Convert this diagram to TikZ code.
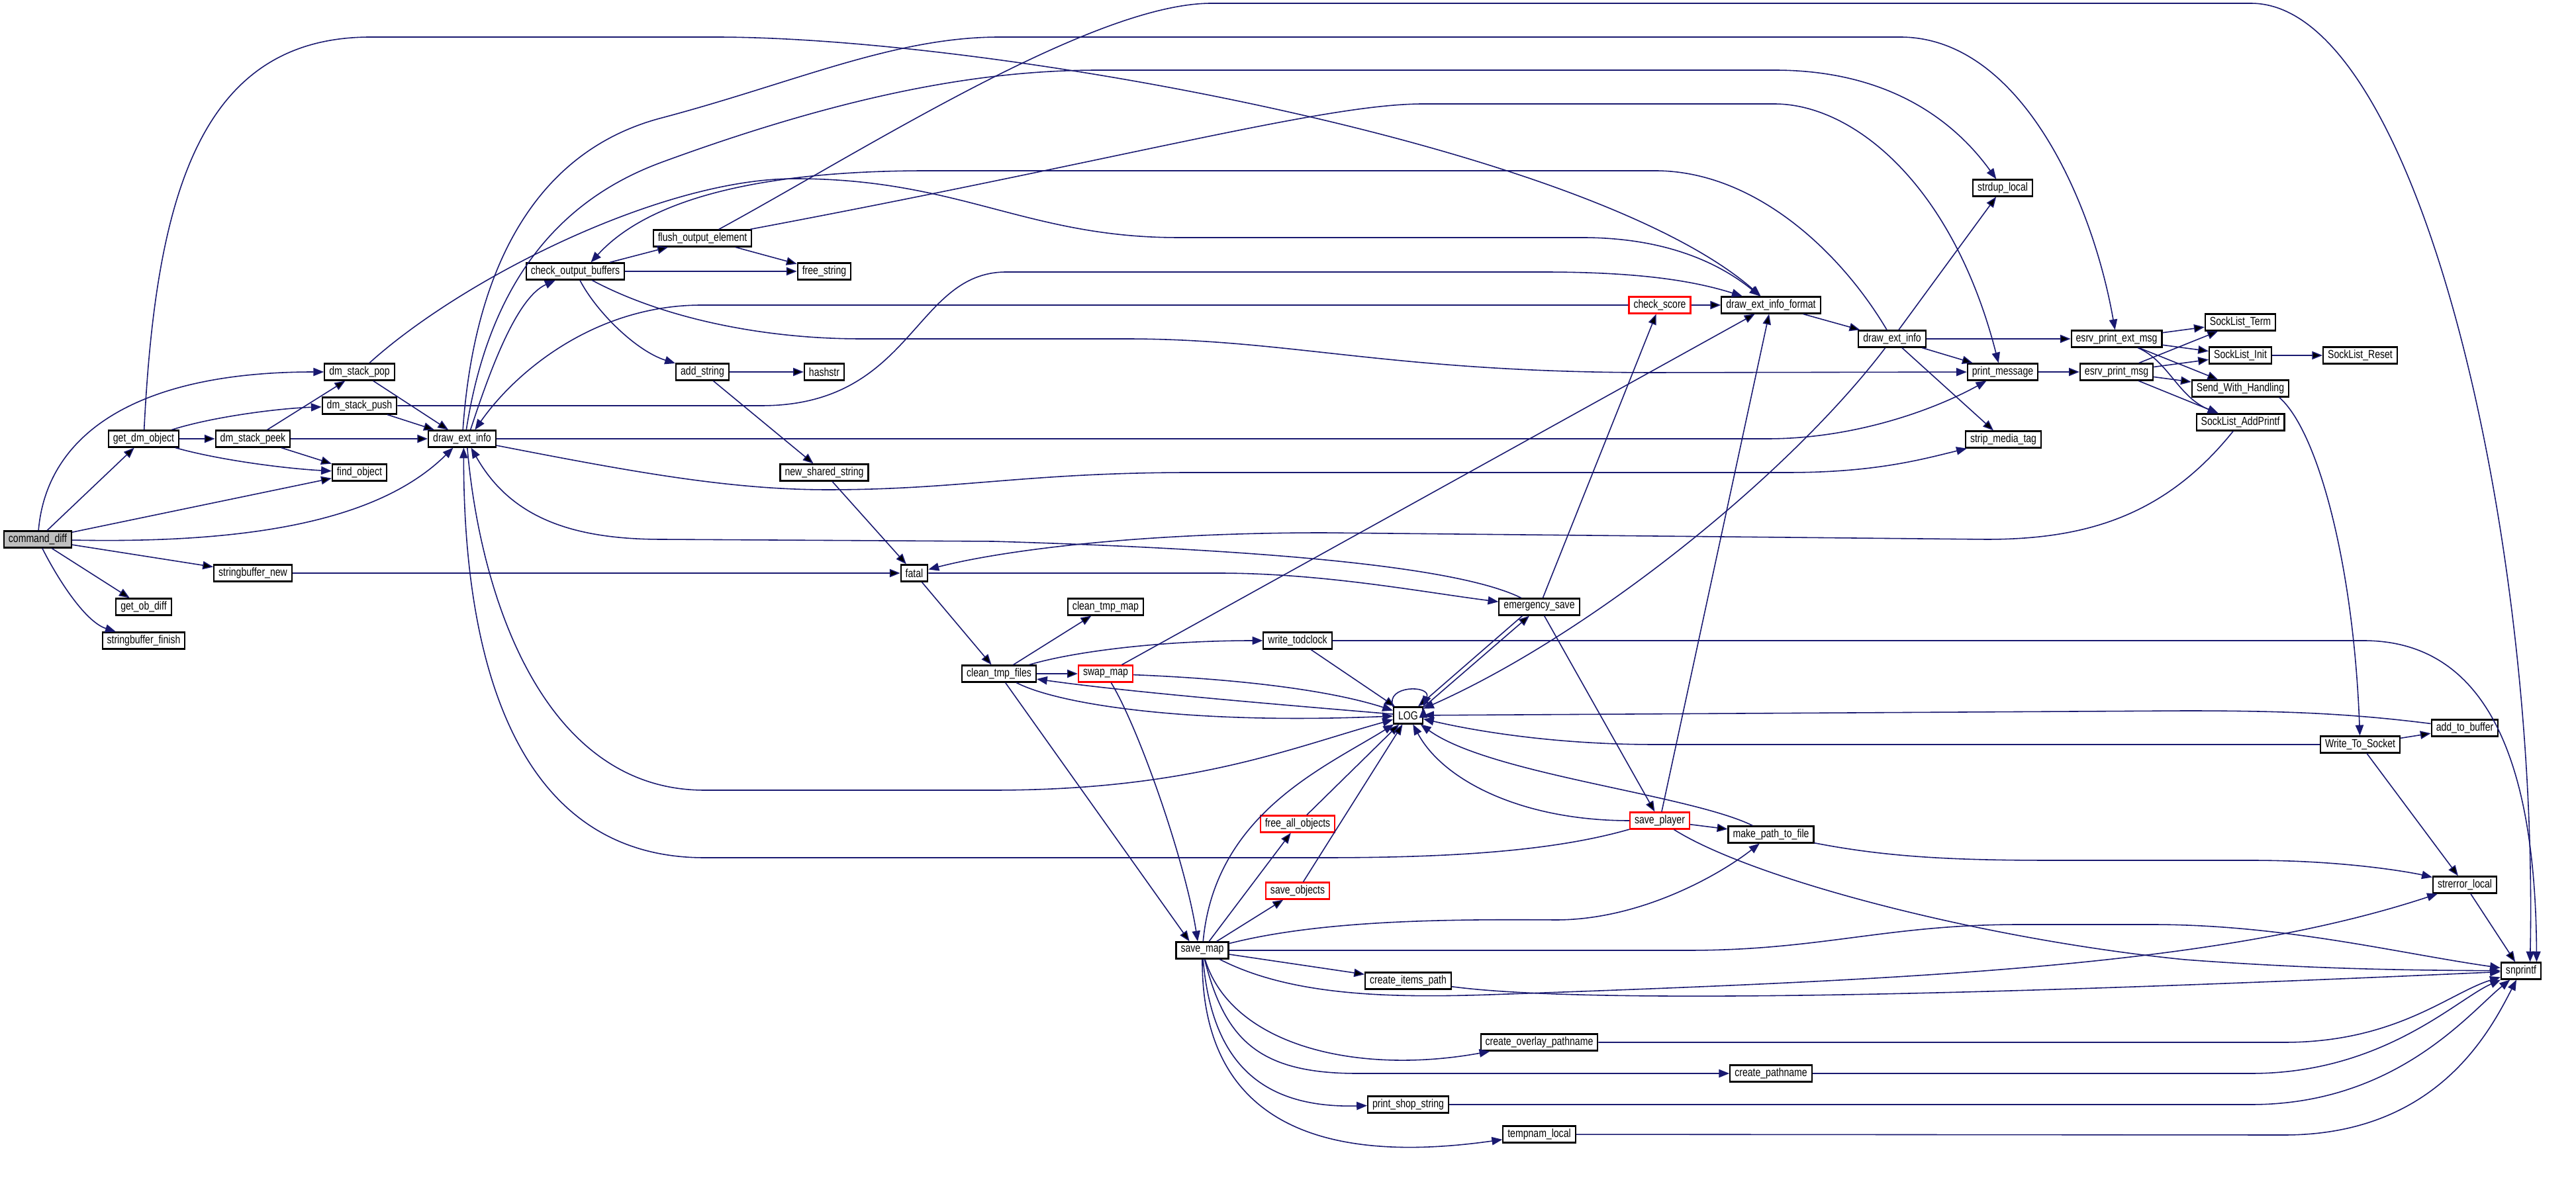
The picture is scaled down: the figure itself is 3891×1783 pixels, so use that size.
\documentclass[tikz,border=0pt]{standalone}
\usepackage{fontspec}
\setmainfont{Liberation Sans}[FakeStretch=0.8]
\usetikzlibrary{arrows.meta}
\definecolor{edgeblue}{HTML}{191970}
\definecolor{rootgray}{HTML}{BFBFBF}

\begin{document}
\begin{tikzpicture}
[
x=0.01cm, y=-0.01cm,
>={Triangle[length=4.5pt,width=3.5pt]},
fn/.style={rectangle, draw=black, line width=0.6pt, fill=white, minimum height=0.25cm, inner xsep=2pt, inner ysep=0pt, font=\fontsize{5}{6}\selectfont},
root/.style={fn, fill=rootgray},
trunc/.style={fn, draw=red},
call/.style={->, draw=edgeblue, line width=0.45pt}
]
\useasboundingbox (0,0) rectangle (3891,1783);

%Nodes
\node[root]  (cmd)     at (57,815)    {command\_diff};
\node[fn]    (gdo)     at (217,663)   {get\_dm\_object};
\node[fn]    (gob)     at (217,917)   {get\_ob\_diff};
\node[fn]    (sbf)     at (217,968)   {stringbuffer\_finish};
\node[fn]    (peek)    at (382,663)   {dm\_stack\_peek};
\node[fn]    (sbn)     at (382,866)   {stringbuffer\_new};
\node[fn]    (pop)     at (543,562)   {dm\_stack\_pop};
\node[fn]    (push)    at (543,613)   {dm\_stack\_push};
\node[fn]    (find)    at (543,714)   {find\_object};
\node[fn]    (dei)     at (698,663)   {draw\_ext\_info};
\node[fn]    (cob)     at (869,410)   {check\_output\_buffers};
\node[fn]    (foe)     at (1061,360)  {flush\_output\_element};
\node[fn]    (adds)    at (1061,562)  {add\_string};
\node[fn]    (frs)     at (1245,410)  {free\_string};
\node[fn]    (hash)    at (1245,562)  {hashstr};
\node[fn]    (nss)     at (1245,714)  {new\_shared\_string};
\node[fn]    (fatal)   at (1381,866)  {fatal};
\node[fn]    (ctf)     at (1509,1018) {clean\_tmp\_files};
\node[fn]    (ctm)     at (1670,917)  {clean\_tmp\_map};
\node[trunc] (swap)    at (1670,1018) {swap\_map};
\node[fn]    (smap)    at (1816,1436) {save\_map};
\node[fn]    (wtc)     at (1960,968)  {write\_todclock};
\node[trunc] (fao)     at (1960,1245) {free\_all\_objects};
\node[trunc] (sob)     at (1960,1346) {save\_objects};
\node[fn]    (log)     at (2127,1081) {LOG};
\node[fn]    (cip)     at (2127,1482) {create\_items\_path};
\node[fn]    (pss)     at (2127,1669) {print\_shop\_string};
\node[fn]    (esave)   at (2325,917)  {emergency\_save};
\node[fn]    (cop)     at (2325,1575) {create\_overlay\_pathname};
\node[fn]    (tnl)     at (2325,1714) {tempnam\_local};
\node[trunc] (cs)      at (2507,461)  {check\_score};
\node[trunc] (splayer) at (2507,1240) {save\_player};
\node[fn]    (cpn)     at (2675,1622) {create\_pathname};
\node[fn]    (deif)    at (2675,461)  {draw\_ext\_info\_format};
\node[fn]    (mptf)    at (2675,1261) {make\_path\_to\_file};
\node[fn]    (deir)    at (2858,512)  {draw\_ext\_info};
\node[fn]    (sdl)     at (3025,284)  {strdup\_local};
\node[fn]    (pm)      at (3025,562)  {print\_message};
\node[fn]    (smt)     at (3026,664)  {strip\_media\_tag};
\node[fn]    (epem)    at (3197,512)  {esrv\_print\_ext\_msg};
\node[fn]    (epm)     at (3197,562)  {esrv\_print\_msg};
\node[fn]    (slt)     at (3384,487)  {SockList\_Term};
\node[fn]    (sli)     at (3384,537)  {SockList\_Init};
\node[fn]    (swh)     at (3384,587)  {Send\_With\_Handling};
\node[fn]    (slap)    at (3384,638)  {SockList\_AddPrintf};
\node[fn]    (slr)     at (3565,537)  {SockList\_Reset};
\node[fn]    (wts)     at (3565,1125) {Write\_To\_Socket};
\node[fn]    (atb)     at (3723,1100) {add\_to\_buffer};
\node[fn]    (sel)     at (3723,1337) {strerror\_local};
\node[fn]    (snp)     at (3808,1467) {snprintf};

%Lines
\path[call]
(cmd)   edge (gdo)
(cmd)   edge (find)
(cmd)   edge (sbn)
(cmd)   edge (gob)
(gdo)   edge (peek)
(peek)  edge (pop)
(peek)  edge (dei)
(peek)  edge (find)
(pop)   edge (dei)
(push)  edge (dei)
(cob)   edge (foe)
(cob)   edge (frs)
(foe)   edge (frs)
(adds)  edge (hash)
(adds)  edge (nss)
(nss)   edge (fatal)
(sbn)   edge (fatal)
(fatal) edge (ctf)
(ctf)   edge (ctm)
(ctf)   edge (swap)
(ctf)   edge (smap.145)
(swap)  edge (deif)
(wtc)   edge (log)
(smap)  edge (cip)
(smap)  edge (fao)
(smap)  edge (sob)
(fao)   edge (log)
(sob)   edge (log)
(esave.208) edge (log.42)
(log.28) edge (esave.222)
(esave) edge (cs)
(esave) edge (splayer)
(splayer) edge (deif)
(splayer) edge (mptf)
(cs)    edge (deif)
(deif)  edge (deir)
(deir)  edge (sdl)
(deir)  edge (epem)
(deir)  edge (pm)
(deir)  edge (smt)
(pm)    edge (epm)
(epem)  edge (slt)
(epem)  edge (sli)
(epem)  edge (swh)
(epm)   edge (slt)
(epm)   edge (sli)
(epm)   edge (swh)
(epm)   edge (slap)
(sli)   edge (slr)
(wts)   edge (atb)
(wts)   edge (sel)
(sel)   edge (snp);

%curved calls
\draw[call] (log.150) .. controls +(110:0.35cm) and +(70:0.35cm) .. (log.30);
\draw[call] (cmd) .. controls (70,660) and (200,562) .. (pop);
\draw[call] (cmd) .. controls (400,822) and (580,780) .. (dei.225);
\draw[call] (cmd) .. controls (90,880) and (130,940) .. (sbf);
\draw[call] (gdo) .. controls (320,630) and (420,617) .. (push);
\draw[call] (gdo) .. controls (330,695) and (430,708) .. (find);
\draw[call] (gdo) .. controls (235,300) and (300,56) .. (560,56) -- (1080,56) .. controls (1500,56) and (2400,220) .. (deif);
\draw[call] (pop) .. controls (700,420) and (1000,270) .. (1200,270) .. controls (1450,270) and (1550,359) .. (1780,359) -- (2390,359) .. controls (2520,359) and (2600,400) .. (deif);
\draw[call] (push) -- (1150,613) .. controls (1380,613) and (1380,411) .. (1520,411) -- (2330,411) .. controls (2480,411) and (2560,425) .. (deif);
\draw[call] (dei.47) .. controls (740,560) and (780,450) .. (cob);
\draw[call] (dei.85) .. controls (715,420) and (800,230) .. (1000,178) .. controls (1200,125) and (1350,56) .. (1510,56) -- (2870,56) .. controls (3050,56) and (3160,300) .. (epem);
\draw[call] (dei.65) .. controls (740,420) and (850,300) .. (1000,245) .. controls (1300,135) and (1500,106) .. (1660,106) -- (2680,106) .. controls (2850,106) and (2950,180) .. (sdl);
\draw[call] (dei) -- (2670,663) .. controls (2800,663) and (2920,620) .. (pm);
\draw[call] (dei) .. controls (950,712) and (1100,740) .. (1250,740) .. controls (1450,740) and (1550,714) .. (1800,714) -- (2700,714) .. controls (2830,714) and (2900,695) .. (smt);
\draw[call] (dei.300) .. controls (725,900) and (820,1194) .. (1064,1194) -- (1500,1194) .. controls (1800,1194) and (1950,1130) .. (log);
\draw[call] (splayer) .. controls (2350,1285) and (2200,1296) .. (2000,1296) -- (1064,1296) .. controls (780,1296) and (700,1000) .. (dei.280);
\draw[call] (esave) .. controls (2200,855) and (1900,830) .. (1500,818) -- (1000,815) .. controls (860,815) and (770,780) .. (dei.315);
\draw[call] (cs) -- (1060,461) .. controls (900,461) and (780,560) .. (dei.35);
\draw[call] (cob) .. controls (900,470) and (960,530) .. (adds);
\draw[call] (cob) .. controls (1000,480) and (1150,512) .. (1300,512) -- (1700,512) .. controls (1950,512) and (2100,563) .. (2500,563) -- (pm);
\draw[call] (deir) .. controls (2780,380) and (2650,258) .. (2500,258) -- (1400,258) .. controls (1150,258) and (980,300) .. (cob.30);
\draw[call] (foe) .. controls (1300,230) and (1650,5) .. (1830,5) -- (3400,5) .. controls (3650,5) and (3835,800) .. (snp.45);
\draw[call] (foe) .. controls (1700,240) and (2000,157) .. (2150,157) -- (2680,157) .. controls (2800,157) and (2950,280) .. (pm.115);
\draw[call] (fatal) -- (1840,866) .. controls (2000,866) and (2150,895) .. (esave);
\draw[call] (slap) .. controls (3270,780) and (3150,815) .. (3000,815) -- (2000,805) .. controls (1700,805) and (1500,835) .. (fatal);
\draw[call] (ctf) .. controls (1620,985) and (1750,968) .. (wtc);
\draw[call] (ctf) .. controls (1600,1065) and (1800,1095) .. (log);
\draw[call] (log) .. controls (1900,1062) and (1700,1045) .. (ctf);
\draw[call] (swap) .. controls (1720,1100) and (1790,1300) .. (smap.117);
\draw[call] (swap) .. controls (1850,1025) and (2000,1040) .. (log);
\draw[call] (wtc) -- (3570,968) .. controls (3780,968) and (3830,1200) .. (snp.30);
\draw[call] (smap) .. controls (1835,1230) and (2000,1160) .. (log);
\draw[call] (smap) .. controls (2000,1389) and (2200,1389) .. (2350,1390) .. controls (2480,1390) and (2600,1320) .. (mptf);
\draw[call] (smap) -- (2550,1436) .. controls (2750,1436) and (2850,1397) .. (3050,1397) -- (3250,1397) .. controls (3450,1397) and (3620,1440) .. (snp);
\draw[call] (smap) .. controls (1950,1505) and (2100,1508) .. (2250,1503) .. controls (2900,1480) and (3350,1460) .. (sel);
\draw[call] (smap) .. controls (1860,1580) and (2050,1625) .. (cop);
\draw[call] (smap) .. controls (1850,1570) and (1900,1622) .. (2050,1622) -- (cpn);
\draw[call] (smap) .. controls (1830,1600) and (1900,1675) .. (pss);
\draw[call] (smap) .. controls (1815,1700) and (2000,1760) .. (tnl);
\draw[call] (cip) .. controls (2450,1525) and (3300,1490) .. (snp);
\draw[call] (cop) -- (3450,1575) .. controls (3620,1575) and (3700,1500) .. (snp);
\draw[call] (cpn) -- (3400,1622) .. controls (3600,1622) and (3710,1510) .. (snp);
\draw[call] (pss) -- (3400,1669) .. controls (3620,1669) and (3730,1530) .. (snp);
\draw[call] (tnl) -- (3450,1715) .. controls (3680,1715) and (3760,1560) .. (snp);
\draw[call] (splayer) .. controls (2300,1240) and (2180,1180) .. (log);
\draw[call] (splayer) .. controls (2650,1330) and (3000,1420) .. (3300,1450) .. controls (3500,1465) and (3650,1466) .. (snp);
\draw[call] (mptf) .. controls (2550,1200) and (2250,1170) .. (log);
\draw[call] (mptf) .. controls (2850,1295) and (2950,1300) .. (3100,1300) -- (3400,1300) .. controls (3550,1300) and (3650,1320) .. (sel);
\draw[call] (deir) .. controls (2700,720) and (2400,960) .. (log);
\draw[call] (epem) .. controls (3275,545) and (3290,600) .. (slap);
\draw[call] (swh.347) .. controls (3500,650) and (3555,850) .. (wts);
\draw[call] (atb) .. controls (3550,1078) and (3450,1074) .. (3300,1074) -- (log);
\draw[call] (wts) -- (2500,1125) .. controls (2350,1125) and (2230,1105) .. (log);

\end{tikzpicture}
\end{document}
